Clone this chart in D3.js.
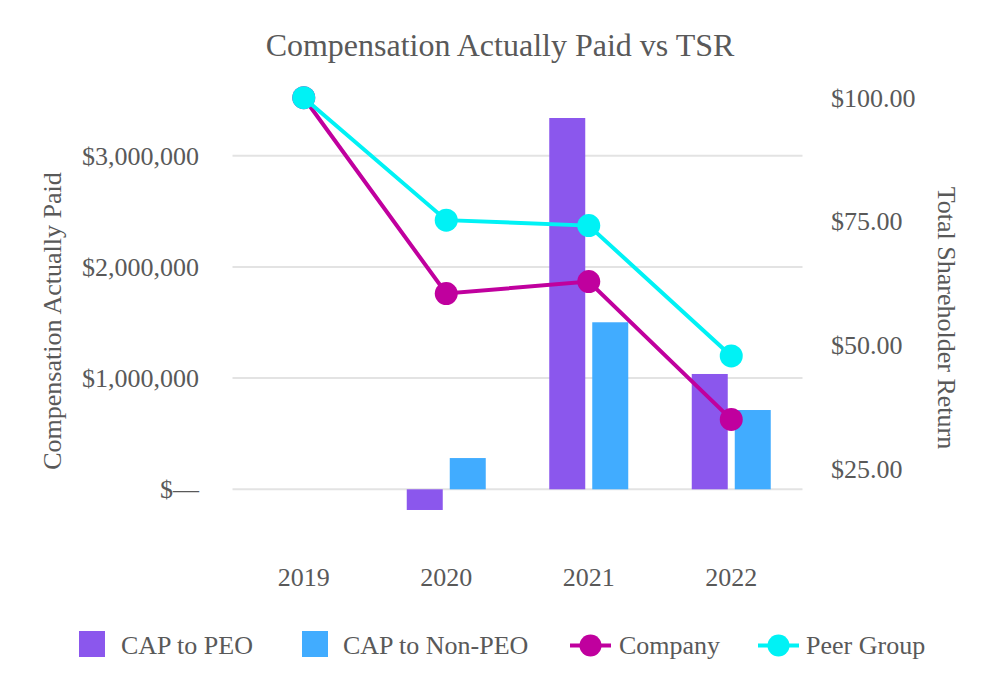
<!DOCTYPE html>
<html>
<head>
<meta charset="utf-8">
<script src="https://cdn.jsdelivr.net/npm/d3@7"></script>
<style>
  html, body { margin: 0; padding: 0; background: #fff; }
</style>
</head>
<body>
<svg id="chart" width="1000" height="700"></svg>
<script>
// ---- data ----
const years = ["2019", "2020", "2021", "2022"];
const capPEO = [null, -186000, 3339000, 1037000];
const capNonPEO = [null, 281000, 1502000, 713000];
const tsrCompany = [100, 60.5, 62.9, 35.1];
const tsrPeer = [100, 75.3, 74.2, 47.9];
const leftTicks = [0, 1000000, 2000000, 3000000];
const rightTicks = [25, 50, 75, 100];
const barSeries = ["CAP to PEO", "CAP to Non-PEO"];
const lineSeries = ["Company", "Peer Group"];
const colors = {
  "CAP to PEO": "#8B57ED",
  "CAP to Non-PEO": "#41ACFF",
  "Company": "#C0009E",
  "Peer Group": "#00F2F5"
};
const FONT = "Liberation Serif";
const TXT = "#595959";

const svg = d3.select("#chart").attr("font-family", FONT);

// ---- scales ----
const x0 = d3.scaleBand().domain(years).range([232.5, 802.5]).padding(0);
const x1 = d3.scaleBand().domain(barSeries).range([-39.5, 39.5]).paddingInner(0.163);
const yL = d3.scaleLinear().domain([0, 3000000]).range([489.3, 155.7]);
const yR = d3.scaleLinear().domain([25, 100]).range([469.5, 97.7]);
const cx = y => x0(y) + x0.bandwidth() / 2;

function styleText(sel) {
  sel.attr("font-family", FONT).attr("font-size", 26).attr("fill", TXT);
}

// ---- title ----
svg.append("text").attr("x", 500).attr("y", 56).attr("text-anchor", "middle")
  .attr("font-family", FONT).attr("font-size", 32).attr("fill", TXT)
  .text("Compensation Actually Paid vs TSR");

// ---- gridlines ----
svg.append("g").selectAll("line").data(leftTicks).join("line")
  .attr("x1", 232.5).attr("x2", 802.5)
  .attr("y1", d => yL(d)).attr("y2", d => yL(d))
  .attr("stroke", "#e3e3e3").attr("stroke-width", 2);

// ---- left axis ----
const fmtL = d => d === 0 ? "$\u2014" : "$" + d3.format(",")(d);
const axL = d3.axisLeft(yL).tickValues(leftTicks).tickFormat(fmtL).tickSize(0).tickPadding(0);
const gL = svg.append("g").attr("transform", "translate(199,0)").call(axL);
gL.attr("font-family", FONT).attr("font-size", 26);
gL.select(".domain").remove();
styleText(gL.selectAll("text"));

// ---- right axis ----
const axR = d3.axisRight(yR).tickValues(rightTicks).tickFormat(d => "$" + d3.format(".2f")(d)).tickSize(0).tickPadding(0);
const gR = svg.append("g").attr("transform", "translate(831,0)").call(axR);
gR.attr("font-family", FONT).attr("font-size", 26);
gR.select(".domain").remove();
styleText(gR.selectAll("text"));

// ---- bottom axis ----
const axB = d3.axisBottom(x0).tickSize(0).tickPadding(0);
const gB = svg.append("g").attr("transform", "translate(0,566)").call(axB);
gB.attr("font-family", FONT).attr("font-size", 26);
gB.select(".domain").remove();
styleText(gB.selectAll("text"));
gB.selectAll("text").attr("dy", "0.75em");

// ---- axis titles ----
styleText(svg.append("text").attr("transform", "translate(61,321) rotate(-90)").attr("text-anchor", "middle")
  .text("Compensation Actually Paid"));
styleText(svg.append("text").attr("transform", "translate(938,318) rotate(90)").attr("text-anchor", "middle")
  .text("Total Shareholder Return"));

// ---- bars ----
const barData = [];
years.forEach((y, i) => {
  if (capPEO[i] !== null) barData.push({ year: y, s: "CAP to PEO", v: capPEO[i] });
  if (capNonPEO[i] !== null) barData.push({ year: y, s: "CAP to Non-PEO", v: capNonPEO[i] });
});
svg.append("g").selectAll("rect").data(barData).join("rect")
  .attr("x", d => cx(d.year) + x1(d.s))
  .attr("width", x1.bandwidth())
  .attr("y", d => Math.min(yL(d.v), yL(0)))
  .attr("height", d => Math.abs(yL(d.v) - yL(0)))
  .attr("fill", d => colors[d.s]);

// ---- lines ----
const lineGen = d3.line().x(d => cx(d.year)).y(d => yR(d.v));
[["Company", tsrCompany], ["Peer Group", tsrPeer]].forEach(([name, vals]) => {
  const pts = years.map((y, i) => ({ year: y, v: vals[i] }));
  const g = svg.append("g");
  g.append("path").datum(pts).attr("d", lineGen)
    .attr("fill", "none").attr("stroke", colors[name]).attr("stroke-width", 4);
  g.selectAll("circle").data(pts).join("circle")
    .attr("cx", d => cx(d.year)).attr("cy", d => yR(d.v)).attr("r", 11.5)
    .attr("fill", colors[name]);
});

// ---- legend ----
const leg = svg.append("g");
const legItems = [
  { name: "CAP to PEO", type: "rect", x: 79, tx: 121 },
  { name: "CAP to Non-PEO", type: "rect", x: 302, tx: 343 },
  { name: "Company", type: "line", x: 570, tx: 619 },
  { name: "Peer Group", type: "line", x: 758, tx: 806 }
];
legItems.forEach(it => {
  if (it.type === "rect") {
    leg.append("rect").attr("x", it.x).attr("y", 631).attr("width", 26).attr("height", 26)
      .attr("fill", colors[it.name]);
  } else {
    leg.append("line").attr("x1", it.x).attr("x2", it.x + 41).attr("y1", 645.5).attr("y2", 645.5)
      .attr("stroke", colors[it.name]).attr("stroke-width", 4);
    leg.append("circle").attr("cx", it.x + 20.5).attr("cy", 645.5).attr("r", 11)
      .attr("fill", colors[it.name]);
  }
  styleText(leg.append("text").attr("x", it.tx).attr("y", 654).text(it.name));
});
</script>
</body>
</html>
